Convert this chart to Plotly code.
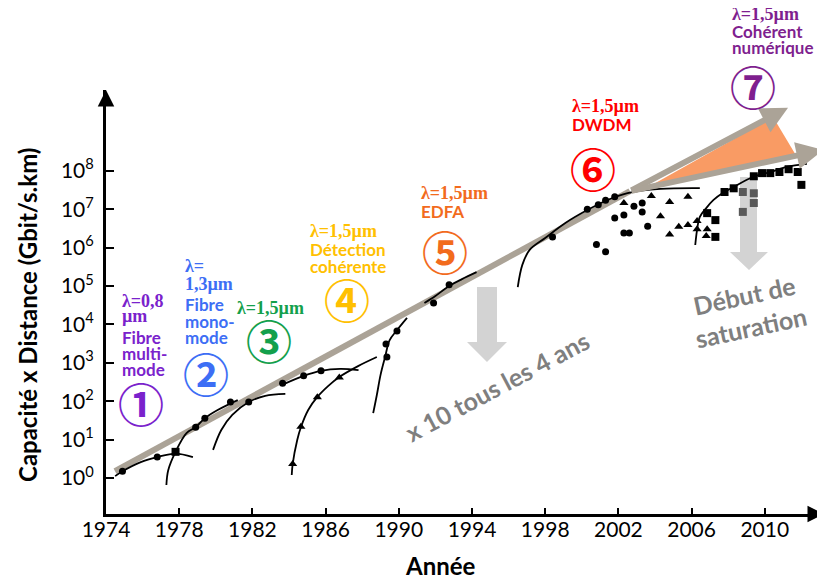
import math
import plotly.graph_objects as go

# ---------------- data ----------------
x_ticks = [1974, 1978, 1982, 1986, 1990, 1994, 1998, 2002, 2006, 2010]
y_ticks = [1e0, 1e1, 1e2, 1e3, 1e4, 1e5, 1e6, 1e7, 1e8]
y_tick_text = ["10<sup>0</sup>", "10<sup>1</sup>", "10<sup>2</sup>", "10<sup>3</sup>",
               "10<sup>4</sup>", "10<sup>5</sup>", "10<sup>6</sup>", "10<sup>7</sup>",
               "10<sup>8</sup>"]

# technology curves (year, capacity x distance)
curve1_year = [1974.5, 1974.9, 1975.9, 1976.8, 1977.8, 1978.75]
curve1_val = [1.12, 1.5, 2.6, 3.5, 4.3, 3.5]
curve2_year = [1977.3, 1977.4, 1977.8, 1978.4, 1978.9, 1979.4, 1980.1, 1981.2]
curve2_val = [0.66, 1.6, 4.8, 14.8, 21, 36, 59, 107]
curve3_year = [1979.85, 1980.3, 1980.9, 1981.8, 1982.7, 1983.8]
curve3_val = [5.4, 17.8, 44, 95, 138, 155]
curve4_year = [1983.6, 1984.8, 1985.75, 1986.8, 1987.8]
curve4_val = [263, 457, 617, 692, 646]
curve5_year = [1984.15, 1984.2, 1984.45, 1984.65, 1985.05, 1985.55, 1986.15, 1986.75, 1987.8, 1988.8]
curve5_val = [1.2, 2.3, 9.8, 21, 59, 129, 251, 427, 832, 1413]
curve6_year = [1988.6, 1988.8, 1989.0, 1989.25, 1989.5, 1989.9, 1990.45]
curve6_val = [49, 145, 479, 1413, 3890, 7080, 14800]
curve7_year = [1991.4, 1992.0, 1992.75, 1993.45, 1994.25]
curve7_val = [36300, 55000, 1.0e5, 1.51e5, 2.29e5]
curve8_year = [1996.5, 1996.75, 1997.15, 1998.0, 1999.1, 2000.3, 2001.4, 2002.5, 2004.3, 2006.45]
curve8_val = [9.3e4, 3.55e5, 8.7e5, 1.78e6, 4.37e6, 9.5e6, 1.74e7, 2.63e7, 3.39e7, 3.55e7]
curve9_year = [2006.2, 2006.3, 2006.45, 2006.8, 2007.2, 2007.7, 2008.3, 2009.35, 2010.3, 2011.2, 2012.3]
curve9_val = [1.17e6, 2.9e6, 6.3e6, 1.07e7, 1.74e7, 2.63e7, 3.8e7, 6.9e7, 9.3e7, 1.26e8, 1.51e8]

# experimental points
circle_year = [1974.9, 1976.8, 1978.9, 1979.4, 1980.8, 1981.8, 1983.65, 1984.8, 1985.75,
               1989.35, 1989.3, 1989.9, 1991.9, 1992.75,
               1998.4, 2000.3, 2000.9, 2001.3, 2001.8, 2000.8, 2001.3, 2001.8, 2002.3,
               2002.3, 2002.6, 2002.85, 2003.3, 2003.3, 2003.6]
circle_val = [1.5, 3.5, 21, 36, 95, 95, 295, 457, 617,
              1413, 3090, 6760, 36300, 1.07e5,
              1.9e6, 1.0e7, 1.3e7, 1.7e7, 2.1e7, 1.2e6, 7.8e5, 5.9e6, 7.1e6,
              2.4e6, 2.4e6, 1.2e7, 1.45e7, 8.5e6, 3.6e6]
triangle_year = [1984.2, 1984.65, 1985.55, 1986.75,
                 2002.3, 2003.8, 2004.8, 2005.8, 2004.3, 2005.3, 2005.8, 2004.8,
                 2006.3, 2006.3, 2006.8, 2006.85]
triangle_val = [2.3, 21.5, 126, 417,
                1.45e7, 2.2e7, 1.55e7, 2.1e7, 6.6e6, 3.5e6, 3.9e6, 2.2e6,
                4.9e6, 3.0e6, 2.0e6, 3.0e6]
square_year = [1977.8, 2006.85, 2007.3, 2007.3, 2007.8, 2008.3, 2009.4, 2009.85, 2010.3,
               2010.8, 2011.3, 2011.8, 2012.0]
square_val = [4.8, 7.9e6, 5.2e6, 1.9e6, 2.8e7, 3.5e7, 7.2e7, 8.7e7, 8.7e7,
              9.3e7, 1.1e8, 9.3e7, 4.3e7]
gray_square_year = [2008.8, 2009.4, 2008.8, 2009.4]
gray_square_val = [2.8e7, 2.6e7, 8.5e6, 1.45e7]

# trend lines
trend_year = [1974.49, 2002.63]
trend_val = [1.51, 2.95e7]
upper_year = [2002.63, 2011.27]
upper_val = [2.95e7, 4.4e9]
lower_year = [2002.63, 2013.2]
lower_val = [2.95e7, 3.5e8]
wedge_year = [2003.34, 2010.45, 2011.76]
wedge_val = [3.16e7, 2.5e9, 2.3e8]

# ---------------- layout helpers ----------------
OFF = 8                      # default page margin of the html body
W, H = 825 - OFF, 579 - OFF
L, R, T, B = 106 - OFF, 0, 90 - OFF, 65
PW, PH = W - L - R, H - T - B


def pp(px, py):
    """screen pixel of the 825x579 window -> paper coordinates"""
    return (px - OFF - L) / PW, (H - B - (py - OFF)) / PH


SANS = "Lato"
SERIF = "Liberation Serif"
CJK = "Noto Sans CJK JP"
GRAY_LINE = "#ABA397"

fig = go.Figure()

# orange wedge
fig.add_trace(go.Scatter(x=wedge_year, y=wedge_val, mode="lines", fill="toself",
                         fillcolor="#F99B64", line=dict(width=0), hoverinfo="skip"))
# main trend line
fig.add_trace(go.Scatter(x=trend_year, y=trend_val, mode="lines",
                         line=dict(color=GRAY_LINE, width=6), hoverinfo="skip"))

curves = [(curve1_year, curve1_val), (curve2_year, curve2_val), (curve3_year, curve3_val),
          (curve4_year, curve4_val), (curve5_year, curve5_val), (curve6_year, curve6_val),
          (curve7_year, curve7_val), (curve8_year, curve8_val), (curve9_year, curve9_val)]
for cx, cy in curves:
    fig.add_trace(go.Scatter(x=cx, y=cy, mode="lines",
                             line=dict(color="black", width=1.8, shape="spline", smoothing=1.0),
                             hoverinfo="skip"))

fig.add_trace(go.Scatter(x=circle_year, y=circle_val, mode="markers",
                         marker=dict(symbol="circle", size=7, color="black")))
fig.add_trace(go.Scatter(x=triangle_year, y=triangle_val, mode="markers",
                         marker=dict(symbol="triangle-up", size=8, color="black")))
fig.add_trace(go.Scatter(x=square_year, y=square_val, mode="markers",
                         marker=dict(symbol="square", size=8, color="black")))
fig.add_trace(go.Scatter(x=gray_square_year, y=gray_square_val, mode="markers",
                         marker=dict(symbol="square", size=8, color="#595959")))

annotations = []

# arrows of the trend (upper and lower)
for xs, ys in [(upper_year, upper_val), (lower_year, lower_val)]:
    annotations.append(dict(x=xs[1], y=math.log10(ys[1]), ax=xs[0], ay=math.log10(ys[0]),
                            xref="x", yref="y", axref="x", ayref="y", text="",
                            showarrow=True, arrowhead=2, arrowsize=0.9, arrowwidth=6,
                            arrowcolor=GRAY_LINE))

# axis arrow heads
annotations.append(dict(x=1, y=0, xref="paper", yref="paper", ax=-14, ay=0, text="",
                        showarrow=True, arrowhead=2, arrowsize=1.1, arrowwidth=3,
                        arrowcolor="black"))
annotations.append(dict(x=0, y=1, xref="paper", yref="paper", ax=0, ay=14, text="",
                        showarrow=True, arrowhead=2, arrowsize=1.1, arrowwidth=3,
                        arrowcolor="black"))


def label(text, px, py, color, family, size, xanchor="left", angle=0, bold=True):
    x, y = pp(px, py)
    annotations.append(dict(x=x, y=y, xref="paper", yref="paper", xanchor=xanchor,
                            yanchor="middle", text=("<b>%s</b>" % text) if bold else text,
                            showarrow=False, textangle=angle,
                            font=dict(family=family, size=size, color=color)))


def block(serif_lines, sans_lines, left, ys, color):
    i = 0
    for s in serif_lines:
        label(s, left, ys[i], color, SERIF, 18)
        i += 1
    for s in sans_lines:
        label(s, left, ys[i], color, SANS, 17)
        i += 1


C1, C2, C3, C4, C5, C6, C7 = "#7A22CC", "#3D6EF5", "#13A04C", "#FFC000", "#F26B1D", "#FF0000", "#7F1F8F"
block(["λ=0,8", "µm"], ["Fibre", "multi-", "mode"], 120, [301, 316, 337, 353, 369], C1)
block(["λ=", "1,3µm"], ["Fibre", "mono-", "mode"], 183, [266, 284, 304, 321, 337], C2)
block(["λ=1,5µm"], [], 235, [308], C3)
block(["λ=1,5µm"], ["Détection", "cohérente"], 308, [231, 249, 266], C4)
block(["λ=1,5µm"], ["EDFA"], 419, [193, 211], C5)
block(["λ=1,5µm"], ["DWDM"], 570, [106, 124], C6)
block(["λ=1,5µm"], ["Cohérent", "numérique"], 730, [14, 31, 47], C7)

for glyph, cx, cy, col in [("①", 141, 402, C1), ("②", 206, 372, C2), ("③", 269, 339, C3),
                           ("④", 347, 298, C4), ("⑤", 445, 250, C5), ("⑥", 593, 167, C6),
                           ("⑦", 753, 85, C7)]:
    label(glyph, cx, cy, col, CJK, 46, xanchor="center", bold=True)

label("x 10 tous les 4 ans", 497, 386, "#7F7F7F", SANS, 25, xanchor="center", angle=-28)
label("Début de<br>saturation", 747, 311, "#7F7F7F", SANS, 25, xanchor="center", angle=-12)

# axis titles
label("Année", 440, 565, "black", SANS, 24, xanchor="center")
label("Capacité x Distance (Gbit/s.km)", 27, 315, "black", SANS, 24, xanchor="center", angle=-90)

# light gray "down" arrows
shapes = []
for poly in [[(477, 287), (497, 287), (497, 342), (507, 342), (487, 362), (467, 342), (477, 342)],
             [(740, 177), (757, 177), (757, 252), (768, 252), (749, 270), (730, 252), (740, 252)]]:
    pts = [pp(a, b) for a, b in poly]
    path = "M " + " L ".join("%.5f,%.5f" % p for p in pts) + " Z"
    shapes.append(dict(type="path", path=path, xref="paper", yref="paper",
                       fillcolor="#D3D3D3", line=dict(width=0), layer="below"))

fig.update_layout(
    width=W, height=H, margin=dict(l=L, r=R, t=T, b=B),
    paper_bgcolor="white", plot_bgcolor="white", showlegend=False,
    annotations=annotations, shapes=shapes,
    xaxis=dict(range=[1974, 2013.29], tickvals=x_ticks, ticks="inside", ticklen=6,
               tickwidth=1.5, tickcolor="black", showline=True, linewidth=3,
               linecolor="black", showgrid=False, zeroline=False, ticklabelstandoff=-5,
               tickfont=dict(family=SANS, size=21, color="black")),
    yaxis=dict(type="log", range=[-0.9375, 10.104], tickvals=y_ticks, ticktext=y_tick_text,
               ticks="inside", ticklen=8, tickwidth=1.5, tickcolor="black", showline=True,
               linewidth=3, linecolor="black", showgrid=False, zeroline=False,
               ticklabelstandoff=5, tickfont=dict(family=SANS, size=21, color="black")),
)

fig.write_html("out.html")
